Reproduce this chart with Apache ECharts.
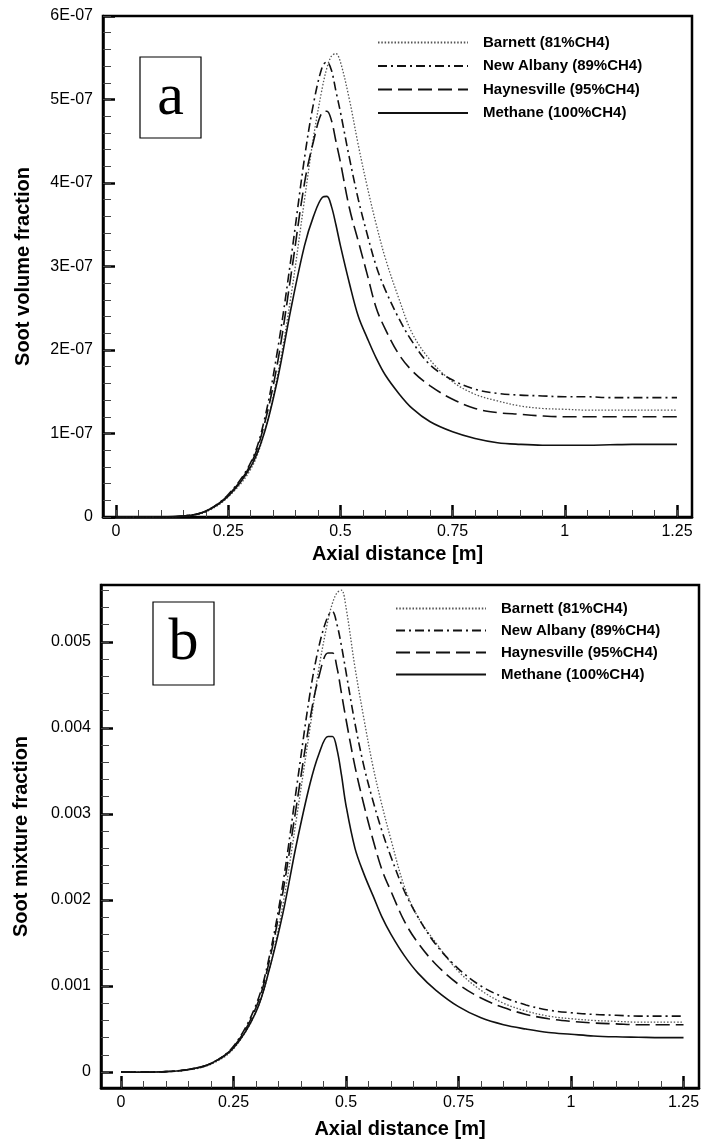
<!DOCTYPE html>
<html><head><meta charset="utf-8">
<script src="https://cdn.jsdelivr.net/npm/echarts@6/dist/echarts.min.js"></script>
<style>html,body{margin:0;padding:0;background:#fff}#c{width:720px;height:1140px}</style>
</head><body><div id="c"></div>
<script>
// ---------- data ----------
const seriesNames = ['Barnett (81%CH4)', 'New Albany (89%CH4)', 'Haynesville (95%CH4)', 'Methane (100%CH4)'];
const xPos = [0, 0.05, 0.1, 0.15, 0.2, 0.25, 0.3, 0.33, 0.36, 0.39, 0.42, 0.44, 0.46, 0.47, 0.48, 0.49, 0.5, 0.52, 0.54, 0.56, 0.58, 0.6, 0.63, 0.66, 0.7, 0.75, 0.8, 0.85, 0.9, 0.95, 1.0, 1.05, 1.1, 1.15, 1.2, 1.25];

// (a) soot volume fraction, in units of 1E-07
const volBarnett   = [0, 0, 0, 0.01, 0.06, 0.24, 0.57, 1.0, 1.7, 2.65, 3.8, 4.55, 5.15, 5.38, 5.52, 5.55, 5.45, 5.0, 4.45, 3.95, 3.5, 3.1, 2.62, 2.2, 1.88, 1.62, 1.47, 1.39, 1.33, 1.3, 1.29, 1.28, 1.28, 1.28, 1.28, 1.28];
const volNewAlbany = [0, 0, 0, 0.01, 0.07, 0.27, 0.65, 1.15, 2.0, 3.1, 4.3, 4.95, 5.4, 5.45, 5.35, 5.1, 4.85, 4.3, 3.8, 3.38, 3.0, 2.72, 2.38, 2.1, 1.82, 1.64, 1.53, 1.48, 1.46, 1.45, 1.44, 1.44, 1.43, 1.43, 1.43, 1.43];
const volHaynes    = [0, 0, 0, 0.01, 0.07, 0.26, 0.63, 1.1, 1.85, 2.9, 4.0, 4.5, 4.85, 4.86, 4.75, 4.5, 4.25, 3.7, 3.3, 2.9, 2.5, 2.25, 1.95, 1.75, 1.57, 1.41, 1.3, 1.25, 1.23, 1.21, 1.2, 1.2, 1.2, 1.2, 1.2, 1.2];
const volMethane   = [0, 0, 0, 0.01, 0.07, 0.25, 0.6, 1.0, 1.65, 2.5, 3.25, 3.6, 3.83, 3.84, 3.72, 3.5, 3.25, 2.8, 2.4, 2.14, 1.9, 1.7, 1.48, 1.3, 1.14, 1.02, 0.94, 0.89, 0.87, 0.86, 0.86, 0.86, 0.865, 0.87, 0.87, 0.87];

// (b) soot mixture fraction, in units of 0.001
const mixBarnett   = [0, 0, 0.004, 0.025, 0.09, 0.27, 0.7, 1.2, 1.95, 2.95, 4.0, 4.7, 5.25, 5.45, 5.57, 5.6, 5.4, 4.7, 4.1, 3.55, 3.1, 2.7, 2.15, 1.8, 1.5, 1.17, 0.95, 0.8, 0.71, 0.65, 0.62, 0.6, 0.59, 0.58, 0.58, 0.58];
const mixNewAlbany = [0, 0, 0.005, 0.03, 0.1, 0.3, 0.78, 1.35, 2.2, 3.3, 4.4, 4.95, 5.3, 5.35, 5.2, 4.95, 4.65, 4.05, 3.55, 3.15, 2.8, 2.5, 2.1, 1.8, 1.48, 1.2, 1.0, 0.87, 0.78, 0.72, 0.69, 0.67, 0.66, 0.65, 0.65, 0.65];
const mixHaynes    = [0, 0, 0.005, 0.03, 0.1, 0.29, 0.75, 1.3, 2.1, 3.1, 4.1, 4.6, 4.87, 4.87, 4.7, 4.4, 4.1, 3.55, 3.1, 2.7, 2.35, 2.1, 1.75, 1.5, 1.25, 1.02, 0.86, 0.75, 0.67, 0.62, 0.59, 0.57, 0.56, 0.55, 0.55, 0.55];
const mixMethane   = [0, 0, 0.005, 0.03, 0.1, 0.28, 0.7, 1.2, 1.85, 2.65, 3.35, 3.7, 3.9, 3.9, 3.75, 3.45, 3.1, 2.6, 2.3, 2.05, 1.8, 1.6, 1.35, 1.15, 0.95, 0.76, 0.63, 0.55, 0.5, 0.46, 0.44, 0.42, 0.41, 0.405, 0.4, 0.4];

const UNIT_A = 1e-7, UNIT_B = 1e-3;

// ticks
const xMajorTicks = [0, 0.25, 0.5, 0.75, 1, 1.25];
const xTickLabels = ['0', '0.25', '0.5', '0.75', '1', '1.25'];
const yMajorTicksA = [0, 1e-7, 2e-7, 3e-7, 4e-7, 5e-7, 6e-7];
const yTickLabelsA = ['0', '1E-07', '2E-07', '3E-07', '4E-07', '5E-07', '6E-07'];
const yMajorTicksB = [0, 0.001, 0.002, 0.003, 0.004, 0.005];
const yTickLabelsB = ['0', '0.001', '0.002', '0.003', '0.004', '0.005'];

// ---------- helpers ----------
function steps(from, to, step) { const a = []; for (let i = 0; from + i * step <= to + step * 1e-6; i++) a.push(+(from + i * step).toPrecision(10)); return a; }
function lookup(ticks, labels) { return v => { for (let i = 0; i < ticks.length; i++) if (Math.abs(ticks[i] - v) < 1e-12 + Math.abs(ticks[i]) * 1e-6) return labels[i]; return ''; }; }

const xMinor = steps(0, 1.25, 0.05);
const yMinorA = steps(0, 6e-7, 0.2e-7);
const yMinorB = steps(0, 0.0056, 0.0002);

const lineStyles = [
  { color: '#555', width: 1.3, type: [1.5, 1.8] },
  { color: '#111', width: 1.6, type: [9, 4, 2, 4] },
  { color: '#111', width: 1.6, type: [14, 6] },
  { color: '#111', width: 1.6, type: 'solid' }
];

const labelFont = { color: '#000', fontSize: 16, fontFamily: 'Liberation Sans, Arial, sans-serif' };
const nameFont = { color: '#000', fontSize: 20, fontWeight: 'bold', fontFamily: 'Liberation Sans, Arial, sans-serif' };

function xAxes(gi, min, max, gap) {
  return [
    { type: 'value', gridIndex: gi, position: 'bottom', min, max,
      axisLine: { show: true, onZero: false, lineStyle: { color: '#000', width: 2.5 } },
      axisTick: { show: true, inside: true, length: 12, customValues: xMajorTicks, lineStyle: { color: '#000', width: 2.5 } },
      axisLabel: { show: true, customValues: xMajorTicks, formatter: lookup(xMajorTicks, xTickLabels), margin: 7, ...labelFont },
      splitLine: { show: false },
      name: 'Axial distance [m]', nameLocation: 'middle', nameGap: gap, nameTextStyle: nameFont },
    { type: 'value', gridIndex: gi, position: 'bottom', min, max,
      axisLine: { show: false, onZero: false },
      axisTick: { show: true, inside: true, length: 7, customValues: xMinor, lineStyle: { color: '#444', width: 1 } },
      axisLabel: { show: false }, splitLine: { show: false } }
  ];
}
function yAxes(gi, min, max, ticks, labels, minor, name, gap) {
  return [
    { type: 'value', gridIndex: gi, position: 'left', min, max,
      axisLine: { show: true, onZero: false, lineStyle: { color: '#000', width: 2.5 } },
      axisTick: { show: true, inside: true, length: 12, customValues: ticks, lineStyle: { color: '#000', width: 2.5 } },
      axisLabel: { show: true, customValues: ticks, formatter: lookup(ticks, labels), margin: 10, ...labelFont },
      splitLine: { show: false },
      name, nameLocation: 'middle', nameGap: gap, nameTextStyle: nameFont },
    { type: 'value', gridIndex: gi, position: 'left', min, max,
      axisLine: { show: false, onZero: false },
      axisTick: { show: true, inside: true, length: 8, customValues: minor, lineStyle: { color: '#444', width: 1 } },
      axisLabel: { show: false }, splitLine: { show: false } }
  ];
}

const setsA = [volBarnett, volNewAlbany, volHaynes, volMethane];
const setsB = [mixBarnett, mixNewAlbany, mixHaynes, mixMethane];
const series = [];
setsA.forEach((vals, i) => series.push({ name: seriesNames[i], type: 'line', xAxisIndex: 0, yAxisIndex: 0, symbol: 'none', smooth: 0.35, lineStyle: lineStyles[i], itemStyle: { color: lineStyles[i].color }, data: xPos.map((x, k) => [x, vals[k] * UNIT_A]) }));
setsB.forEach((vals, i) => series.push({ name: seriesNames[i], type: 'line', xAxisIndex: 2, yAxisIndex: 2, symbol: 'none', smooth: 0.35, lineStyle: lineStyles[i], itemStyle: { color: lineStyles[i].color }, data: xPos.map((x, k) => [x, vals[k] * UNIT_B]) }));

const legendText = { color: '#000', fontSize: 15, fontWeight: 'bold', fontFamily: 'Liberation Sans, Arial, sans-serif', padding: [0, 0, 0, 10] };
const legendItem = { color: 'rgba(0,0,0,0)', borderColor: 'rgba(0,0,0,0)', borderWidth: 0, opacity: 0 };

const option = {
  animation: false,
  backgroundColor: '#fff',
  grid: [
    { left: 103, top: 16, width: 589, height: 501, show: true, borderColor: '#000', borderWidth: 2.5, backgroundColor: 'transparent' },
    { left: 101, top: 585, width: 598, height: 504, show: true, borderColor: '#000', borderWidth: 2.5, backgroundColor: 'transparent' }
  ],
  xAxis: [...xAxes(0, -0.029, 1.2834, 27), ...xAxes(1, -0.0444, 1.2844, 31)],
  yAxis: [...yAxes(0, 0, 6e-7, yMajorTicksA, yTickLabelsA, yMinorA, 'Soot volume fraction', 70),
          ...yAxes(1, -0.000185, 0.00566, yMajorTicksB, yTickLabelsB, yMinorB, 'Soot mixture fraction', 70)],
  legend: [
    { data: seriesNames, orient: 'vertical', left: 372, top: 30, itemWidth: 90, itemHeight: 14, itemGap: 8.5, textStyle: legendText, itemStyle: legendItem, selectedMode: false },
    { data: seriesNames, orient: 'vertical', left: 390, top: 596, itemWidth: 90, itemHeight: 14, itemGap: 7, textStyle: legendText, itemStyle: legendItem, selectedMode: false }
  ],
  graphic: [
    { type: 'rect', shape: { x: 140, y: 57, width: 61, height: 81 }, style: { fill: '#fff', stroke: '#000', lineWidth: 1.2 } },
    { type: 'text', x: 170.5, y: 98, style: { text: 'a', fontSize: 60, fontFamily: 'Liberation Serif, Times New Roman, serif', fill: '#000', align: 'center', verticalAlign: 'middle' } },
    { type: 'rect', shape: { x: 153, y: 602, width: 61, height: 83 }, style: { fill: '#fff', stroke: '#000', lineWidth: 1.2 } },
    { type: 'text', x: 183.5, y: 643, style: { text: 'b', fontSize: 60, fontFamily: 'Liberation Serif, Times New Roman, serif', fill: '#000', align: 'center', verticalAlign: 'middle' } }
  ],
  series
};
const chart = echarts.init(document.getElementById('c'), null, { renderer: 'canvas' });
chart.setOption(option);
</script>
</body></html>
